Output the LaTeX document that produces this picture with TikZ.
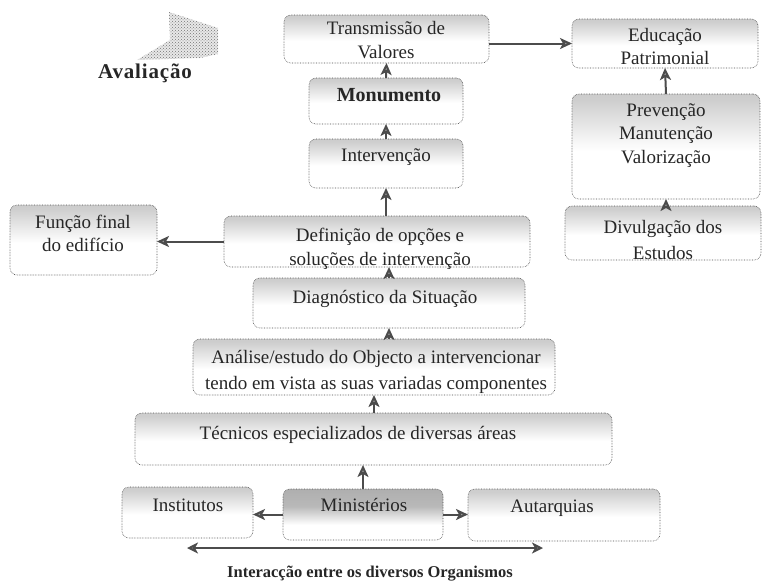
\documentclass[tikz,border=0pt]{standalone}
\usepackage{fontspec}
\setmainfont{Liberation Serif}
\usetikzlibrary{arrows.meta,patterns,calc}
\pgfdeclareverticalshading{boxsh}{100bp}{color(0bp)=(white); color(48bp)=(white); color(72bp)=(gray!38); color(100bp)=(gray!58)}
\pgfdeclareverticalshading{darksh}{100bp}{color(0bp)=(white); color(40bp)=(white); color(58bp)=(gray!55); color(100bp)=(gray!75)}
\begin{document}
\begin{tikzpicture}[x=1pt,y=-1pt,
  box/.style={draw=black!70,densely dotted,line width=0.6pt,rounded corners=7pt,
    shading=boxsh,inner sep=0pt,outer sep=0pt},
  darkbox/.style={box,shading=darksh},
  txt/.style={text=black!85,font=\fontsize{19}{21}\selectfont,inner sep=0pt,anchor=base},
  arr/.style={draw=gray!60!black,line width=2pt,-{Stealth[length=12pt,width=11pt,inset=3pt,fill=gray!65]}},
]
\useasboundingbox (0,0) rectangle (762,584);
\newcommand{\bx}[6][box]{\node[#1,minimum width={#4-#2},minimum height={#5-#3}] (#6) at ({(#2+#4)/2},{(#3+#5)/2}) {};}
% boxes
\bx{284}{15}{489}{63}{T}
\bx{309}{78}{463}{124}{M}
\bx{309}{139}{463}{188}{I}
\bx{572}{19}{758}{68}{E}
\bx{572}{94}{760}{199}{P}
\bx{565}{206}{761}{260}{Dv}
\bx{10}{205}{157}{275}{F}
\bx{224}{216}{530}{267}{D}
\bx{253}{278}{525}{328}{Dg}
\bx{193}{339}{555}{395}{A}
\bx{135}{413}{612}{465}{Tc}
\bx{122}{487}{253}{538}{In}
\bx[darkbox]{283}{489}{443}{540}{Mi}
\bx{468}{489}{660}{541}{Au}
% texts
\node[txt] (tT1) at (386,34) {Transmissão de};
\node[txt] (tT2) at (386,58) {Valores};
\node[txt,font=\fontsize{20}{22}\selectfont\bfseries] (tM) at (389,101) {Monumento};
\node[txt] (tI) at (386,161) {Intervenção};
\node[txt] (tE1) at (665,41) {Educação};
\node[txt] (tE2) at (665,64) {Patrimonial};
\node[txt] (tP1) at (666,116) {Prevenção};
\node[txt] (tP2) at (666,139) {Manutenção};
\node[txt] (tP3) at (666,163) {Valorização};
\node[txt] (tDv1) at (663,233) {Divulgação dos};
\node[txt] (tDv2) at (663,259) {Estudos};
\node[txt] (tF1) at (83,228) {Função final};
\node[txt] (tF2) at (83,251) {do edifício};
\node[txt] (tD1) at (380,241) {Definição de opções e};
\node[txt] (tD2) at (380,265) {soluções de intervenção};
\node[txt] (tDg) at (385,303) {Diagnóstico da Situação};
\node[txt] (tA1) at (376,363) {Análise/estudo do Objecto a intervencionar};
\node[txt] (tA2) at (376,389) {tendo em vista as suas variadas componentes};
\node[txt] (tTc) at (358,439) {Técnicos especializados de diversas áreas};
\node[txt] (tIn) at (188,511) {Institutos};
\node[txt] (tMi) at (364,511) {Ministérios};
\node[txt] (tAu) at (552,512) {Autarquias};
\node[txt,font=\fontsize{16.5}{20}\selectfont\bfseries] (tOrg) at (370,577) {Interacção entre os diversos Organismos};
\node[txt,font=\fontsize{21}{24}\selectfont\bfseries\addfontfeatures{LetterSpace=4}] (tAv) at (145,78) {Avaliação};
% evaluation arrow shape
\fill[gray!18] (137,60) -- (170,40) -- (169,12) -- (218,28) -- (218,54) -- (200,58) -- cycle;
\fill[pattern=crosshatch dots,pattern color=black!55] (137,60) -- (170,40) -- (169,12) -- (218,28) -- (218,54) -- (200,58) -- cycle;
% connectors
\draw[arr] (M.north) -- (T.south);
\draw[arr] (I.north) -- (M.south);
\draw[arr] (D.north -| I.south) -- (I.south);
\draw[arr] (Dg.north) -- (Dg.north |- D.south);
\draw[arr] (Dg.south |- A.north) -- (Dg.south);
\draw[arr] (Tc.north -| A.south) -- (A.south);
\draw[arr] (Mi.north) -- (Mi.north |- Tc.south);
\draw[arr] (Mi.west) -- (Mi.west -| In.east);
\draw[arr] (Mi.east) -- (Mi.east -| Au.west);
\draw[arr] (D.west) -- (D.west -| F.east);
\draw[arr] (E.west -| T.east) -- (E.west);
\draw[arr] (P.north) -- (E.south);
\draw[arr] (P.south |- Dv.north) -- (P.south);
\coordinate (bL) at (187,548);
\coordinate (bR) at (543,548);
\draw[draw=gray!60!black,line width=2pt,{Stealth[length=11pt,width=11pt,inset=3pt,fill=gray!65]}-{Stealth[length=11pt,width=11pt,inset=3pt,fill=gray!65]}] (bL) -- (bR);
\end{tikzpicture}
\end{document}
